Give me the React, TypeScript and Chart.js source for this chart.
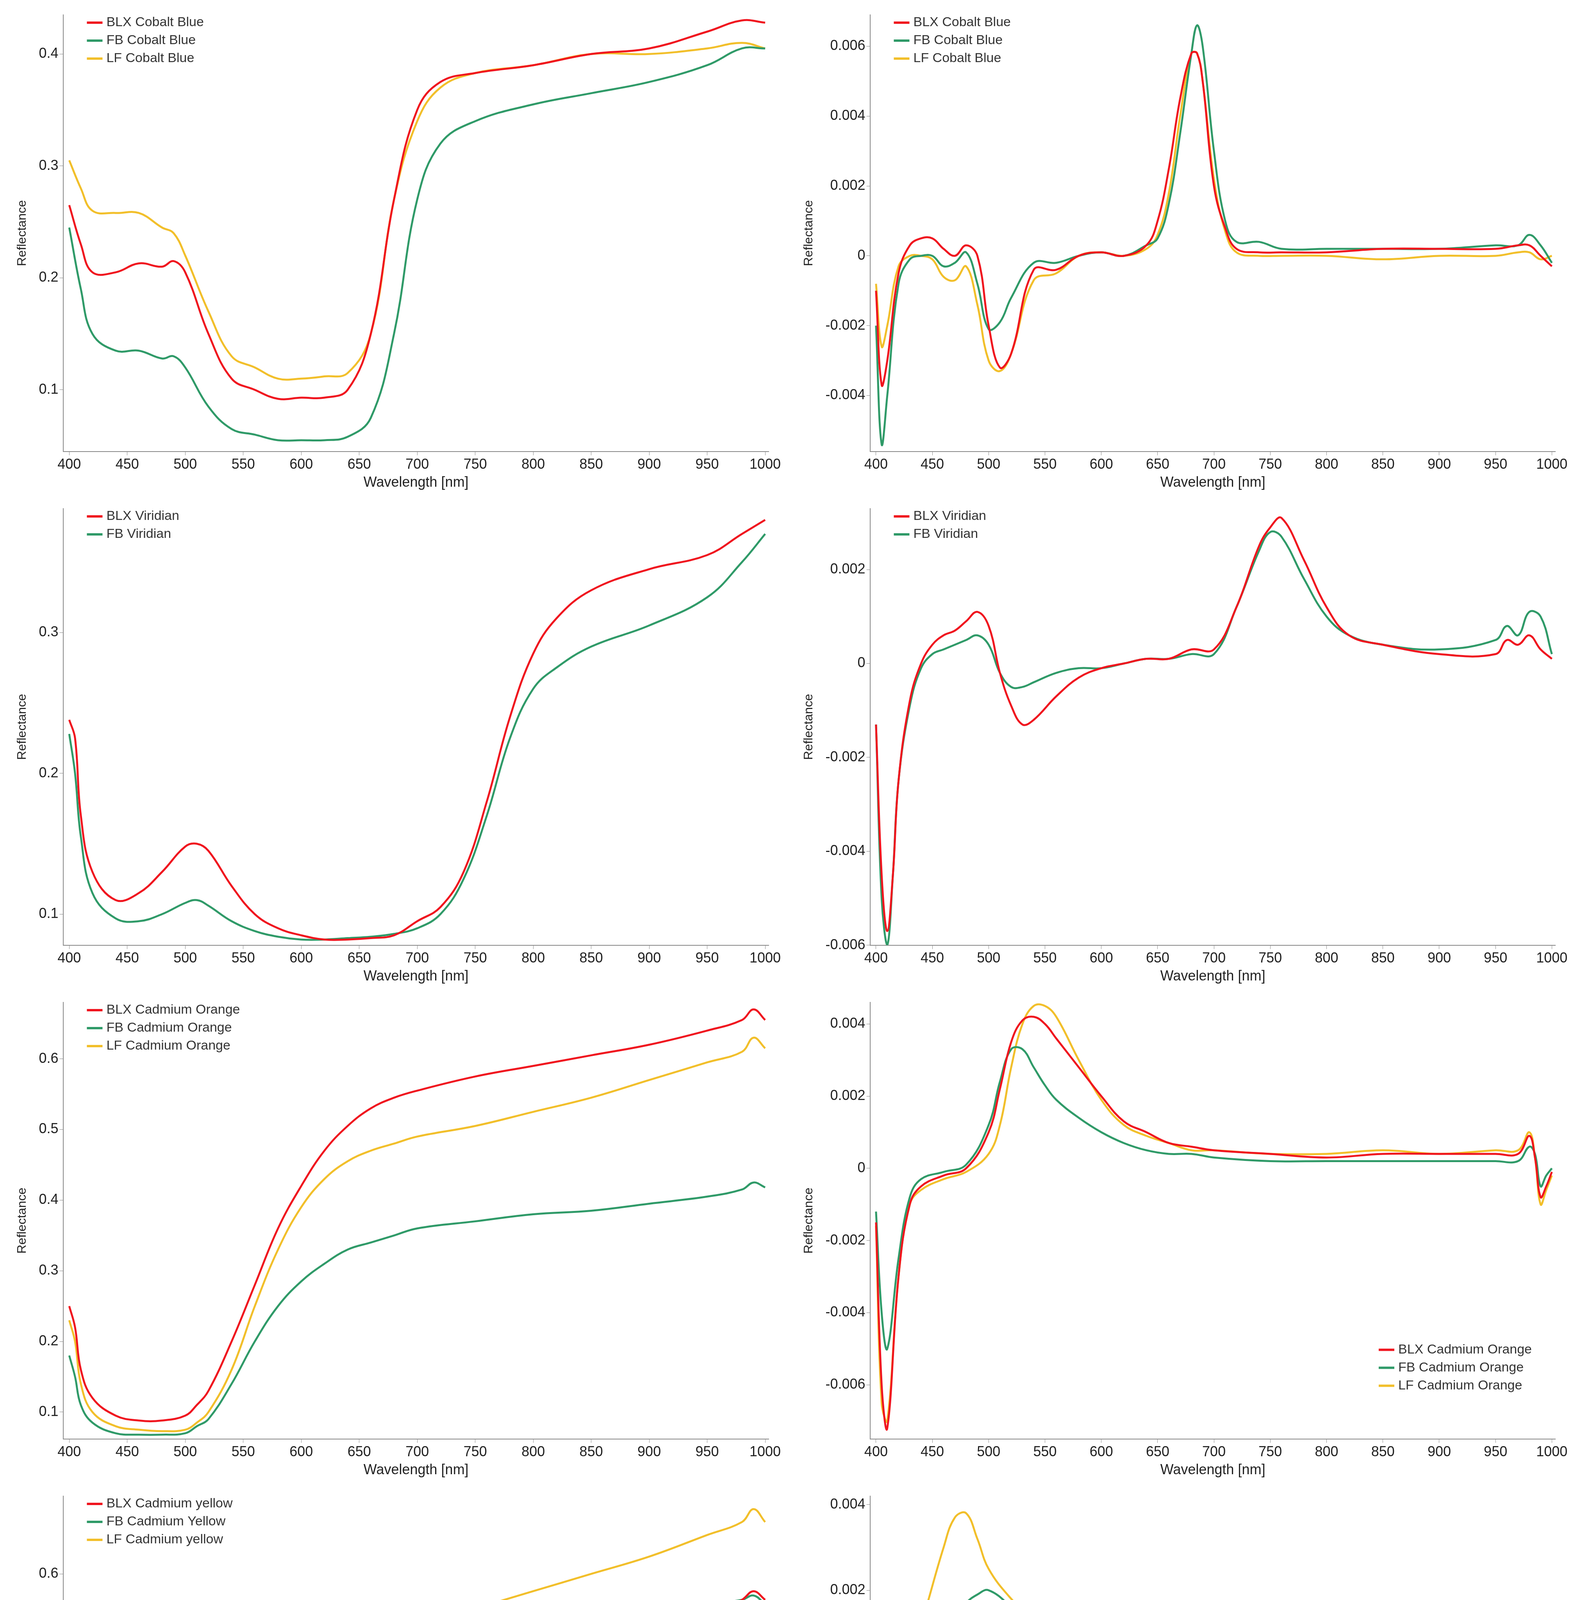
import React, { useEffect, useRef } from "react";
import { Chart, registerables } from "chart.js";
Chart.register(...registerables);

const RED = "#f0141e", GREEN = "#2f9a68", YELLOW = "#f2bf2a";

// Panel 1: Cobalt Blue reflectance
const wl1 = [400,410,420,440,460,480,490,500,520,540,560,580,600,620,640,660,680,700,720,750,800,850,900,950,980,1000];
const blxCobalt = [.265,.23,.205,.205,.213,.21,.215,.205,.15,.11,.1,.092,.093,.093,.1,.15,.27,.35,.375,.383,.39,.4,.405,.42,.43,.428];
const fbCobalt = [.245,.19,.15,.135,.135,.128,.13,.12,.085,.065,.06,.055,.055,.055,.058,.075,.15,.27,.32,.34,.355,.365,.375,.39,.405,.405];
const lfCobalt = [.305,.28,.26,.258,.258,.245,.24,.22,.17,.13,.12,.11,.11,.112,.115,.15,.27,.34,.37,.383,.39,.4,.4,.405,.41,.405];
// Panel 2: Cobalt Blue derivative
const wl2 = [400,405,410,420,430,440,450,460,470,480,490,500,510,520,540,560,580,600,620,640,650,660,670,680,685,690,700,710,720,740,760,800,850,900,950,970,980,990,1000];
const blxCobaltD = [-0.001,-0.0037,-0.003,-0.0005,0.0003,0.0005,0.0005,0.0002,0,0.0003,0,-0.002,-0.0032,-0.0028,-0.0004,-0.0004,0,0.0001,0,0.0003,0.001,0.0025,0.0045,0.0058,0.0058,0.005,0.002,0.0008,0.0002,0.0001,0.0001,0.0001,0.0002,0.0002,0.0002,0.0003,0.0003,0,-0.0003];
const fbCobaltD = [-0.002,-0.0054,-0.004,-0.0008,-0.0001,0,0,-0.0003,-0.0002,0.0001,-0.0008,-0.0021,-0.0019,-0.0012,-0.0002,-0.0002,0,0.0001,0,0.0003,0.0005,0.0015,0.0035,0.0058,0.0066,0.006,0.003,0.001,0.0004,0.0004,0.0002,0.0002,0.0002,0.0002,0.0003,0.0003,0.0006,0.0003,-0.0002];
const lfCobaltD = [-0.0008,-0.0026,-0.002,-0.0003,0,0,-0.0001,-0.0006,-0.0007,-0.0003,-0.0014,-0.003,-0.0033,-0.0028,-0.0007,-0.0005,0,0.0001,0,0.0002,0.0006,0.0018,0.004,0.0058,0.0058,0.005,0.0022,0.0007,0.0001,0,0,0,-0.0001,0,0,0.0001,0.0001,-0.0001,0];
// Panel 3: Viridian reflectance
const wl3 = [400,405,410,420,440,460,480,500,510,520,540,560,580,600,620,640,660,680,700,720,740,760,780,800,820,850,900,950,980,1000];
const blxViridian = [.238,.225,.17,.13,.11,.115,.13,.148,.15,.145,.12,.1,.09,.085,.082,.082,.083,.085,.095,.105,.13,.18,.24,.285,.31,.33,.345,.355,.37,.38];
const fbViridian = [.228,.2,.155,.115,.097,.095,.1,.108,.11,.106,.095,.088,.084,.082,.082,.083,.084,.086,.09,.1,.125,.17,.225,.26,.275,.29,.305,.325,.35,.37];
// Panel 4: Viridian derivative
const wl4 = [400,405,410,415,420,430,440,450,460,470,480,490,500,510,520,530,540,560,580,600,620,640,660,680,700,720,740,750,760,780,800,820,850,900,950,960,970,980,990,1000];
const blxViridianD = [-0.0013,-0.0045,-0.0057,-0.0045,-0.0025,-0.0008,0,0.0004,0.0006,0.0007,0.0009,0.0011,0.0008,-0.0002,-0.0009,-0.0013,-0.0012,-0.0007,-0.0003,-0.0001,0,0.0001,0.0001,0.0003,0.0003,0.0012,0.0025,0.0029,0.0031,0.0022,0.0012,0.0006,0.0004,0.0002,0.0002,0.0005,0.0004,0.0006,0.0003,0.0001];
const fbViridianD = [-0.0013,-0.005,-0.006,-0.0045,-0.0025,-0.0009,-0.0001,0.0002,0.0003,0.0004,0.0005,0.0006,0.0004,-0.0002,-0.0005,-0.0005,-0.0004,-0.0002,-0.0001,-0.0001,0,0.0001,0.0001,0.0002,0.0002,0.0012,0.0024,0.0028,0.0027,0.0018,0.001,0.0006,0.0004,0.0003,0.0005,0.0008,0.0006,0.0011,0.001,0.0002];
// Panel 5: Cadmium Orange reflectance
const wl5 = [400,405,410,420,440,460,480,500,510,520,540,560,580,600,620,640,660,680,700,750,800,850,900,950,980,990,1000];
const blxOrange = [.25,.22,.16,.12,.095,.088,.088,.095,.11,.13,.2,.28,.36,.42,.47,.505,.53,.545,.555,.575,.59,.605,.62,.64,.655,.67,.655];
const fbOrange = [.18,.15,.11,.085,.07,.068,.068,.07,.08,.09,.14,.2,.25,.285,.31,.33,.34,.35,.36,.37,.38,.385,.395,.405,.415,.425,.418];
const lfOrange = [.23,.2,.14,.1,.08,.075,.073,.075,.085,.1,.16,.25,.33,.39,.43,.455,.47,.48,.49,.505,.525,.545,.57,.595,.61,.63,.615];
// Panel 6: Cadmium Orange derivative
const wl6 = [400,405,410,420,430,440,460,480,500,510,520,530,540,550,560,580,600,620,640,660,680,700,750,800,850,900,950,970,980,985,990,995,1000];
const blxOrangeD = [-0.0015,-0.006,-0.0072,-0.003,-0.001,-0.0005,-0.0002,0,0.001,0.0022,0.0035,0.0041,0.0042,0.004,0.0036,0.0028,0.002,0.0013,0.001,0.0007,0.0006,0.0005,0.0004,0.0003,0.0004,0.0004,0.0004,0.0004,0.0009,0.0003,-0.0008,-0.0005,-0.0001];
const fbOrangeD = [-0.0012,-0.004,-0.005,-0.0025,-0.0008,-0.0003,-0.0001,0.0001,0.0012,0.0024,0.0033,0.0033,0.0028,0.0023,0.0019,0.0014,0.001,0.0007,0.0005,0.0004,0.0004,0.0003,0.0002,0.0002,0.0002,0.0002,0.0002,0.0002,0.0006,0.0004,-0.0005,-0.0002,0];
const lfOrangeD = [-0.0016,-0.0065,-0.007,-0.003,-0.001,-0.0006,-0.0003,-0.0001,0.0004,0.0012,0.0028,0.004,0.0045,0.0045,0.0042,0.003,0.0019,0.0012,0.0009,0.0007,0.0005,0.0005,0.0004,0.0004,0.0005,0.0004,0.0005,0.0005,0.001,0.0003,-0.001,-0.0006,-0.0002];
// Panel 7: Cadmium Yellow reflectance
const wl7 = [400,405,410,420,430,440,460,480,500,520,540,560,580,600,650,700,750,800,850,900,950,980,990,1000];
const blxYellow = [.29,.28,.26,.23,.225,.23,.245,.265,.3,.33,.345,.36,.375,.385,.415,.44,.46,.48,.5,.52,.55,.57,.58,.57];
const fbYellow = [.32,.315,.3,.29,.29,.295,.31,.33,.36,.395,.42,.44,.455,.47,.5,.52,.54,.55,.555,.56,.565,.57,.575,.565];
const lfYellow = [.3,.28,.24,.2,.19,.195,.225,.27,.33,.38,.42,.445,.47,.49,.52,.54,.56,.58,.6,.62,.645,.66,.675,.66];
// Panel 8: Cadmium Yellow derivative
const wl8 = [400,405,410,415,420,430,440,460,470,480,490,500,520,540,560,580,600,620,640,660,680,700,750,800,850,900,950,970,980,985,990,1000];
const blxYellowD = [-0.0006,-0.003,-0.0036,-0.0025,-0.0012,0,0.0007,0.0012,0.0014,0.0015,0.0014,0.0013,0.001,0.0008,0.0008,0.0006,0.0005,0.0005,0.0004,0.0004,0.0004,0.0004,0.0004,0.0004,0.0004,0.0004,0.0005,0.0004,0.0008,0.0002,-0.0008,-0.0001];
const fbYellowD = [-0.0006,-0.0022,-0.002,-0.001,0,0.0006,0.0007,0.001,0.0013,0.0017,0.0019,0.002,0.0016,0.001,0.0009,0.0008,0.0006,0.0006,0.0005,0.0004,0.0003,0.0003,0.0002,0.0002,0.0001,0.0001,0.0001,0.0002,0.0005,0.0002,-0.0009,-0.0004];
const lfYellowD = [-0.0015,-0.0055,-0.0052,-0.003,-0.001,0.0005,0.0012,0.003,0.0037,0.0038,0.0032,0.0025,0.0018,0.0013,0.001,0.0007,0.0006,0.0005,0.0003,0.0003,0.0005,0.0005,0.0004,0.0004,0.0005,0.0005,0.0006,0.0005,0.0009,0.0003,-0.0007,-0.0002];

const xTicks = [400,450,500,550,600,650,700,750,800,850,900,950,1000];

type S = { label: string; color: string; data: number[] };
type P = { wl: number[]; series: S[]; ymin: number; ymax: number; step: number; legend: "tl" | "br" };

const panels: P[] = [
  { wl: wl1, ymin: 0.045, ymax: 0.435, step: 0.1, legend: "tl", series: [
    { label: "BLX Cobalt Blue", color: RED, data: blxCobalt },
    { label: "FB Cobalt Blue", color: GREEN, data: fbCobalt },
    { label: "LF Cobalt Blue", color: YELLOW, data: lfCobalt }] },
  { wl: wl2, ymin: -0.0056, ymax: 0.0069, step: 0.002, legend: "tl", series: [
    { label: "BLX Cobalt Blue", color: RED, data: blxCobaltD },
    { label: "FB Cobalt Blue", color: GREEN, data: fbCobaltD },
    { label: "LF Cobalt Blue", color: YELLOW, data: lfCobaltD }] },
  { wl: wl3, ymin: 0.078, ymax: 0.388, step: 0.1, legend: "tl", series: [
    { label: "BLX Viridian", color: RED, data: blxViridian },
    { label: "FB Viridian", color: GREEN, data: fbViridian }] },
  { wl: wl4, ymin: -0.006, ymax: 0.0033, step: 0.002, legend: "tl", series: [
    { label: "BLX Viridian", color: RED, data: blxViridianD },
    { label: "FB Viridian", color: GREEN, data: fbViridianD }] },
  { wl: wl5, ymin: 0.062, ymax: 0.68, step: 0.1, legend: "tl", series: [
    { label: "BLX Cadmium Orange", color: RED, data: blxOrange },
    { label: "FB Cadmium Orange", color: GREEN, data: fbOrange },
    { label: "LF Cadmium Orange", color: YELLOW, data: lfOrange }] },
  { wl: wl6, ymin: -0.0075, ymax: 0.0046, step: 0.002, legend: "br", series: [
    { label: "BLX Cadmium Orange", color: RED, data: blxOrangeD },
    { label: "FB Cadmium Orange", color: GREEN, data: fbOrangeD },
    { label: "LF Cadmium Orange", color: YELLOW, data: lfOrangeD }] },
  { wl: wl7, ymin: 0.185, ymax: 0.69, step: 0.1, legend: "tl", series: [
    { label: "BLX Cadmium yellow", color: RED, data: blxYellow },
    { label: "FB Cadmium Yellow", color: GREEN, data: fbYellow },
    { label: "LF Cadmium yellow", color: YELLOW, data: lfYellow }] },
  { wl: wl8, ymin: -0.006, ymax: 0.0042, step: 0.002, legend: "br", series: [
    { label: "BLX Cadmium yellow", color: RED, data: blxYellowD },
    { label: "FB Cadmium Yellow", color: GREEN, data: fbYellowD },
    { label: "LF Cadmium yellow", color: YELLOW, data: lfYellowD }] },
];

const FONT = "'Liberation Sans', Arial, sans-serif";

const legendPlugin = (p: P) => ({
  id: "vlegend",
  afterDraw(chart: any) {
    const ctx = chart.ctx, a = chart.chartArea;
    const lh = 46, fs = 34;
    ctx.save();
    ctx.font = `${fs}px ${FONT}`;
    ctx.textBaseline = "middle";
    let x0: number, y0: number;
    if (p.legend === "tl") { x0 = a.left + 60; y0 = a.top + 20; }
    else {
      const w = Math.max(...p.series.map(s => ctx.measureText(s.label).width)) + 70;
      x0 = a.right - w - 40; y0 = a.bottom - 90 - lh * p.series.length;
    }
    p.series.forEach((s, i) => {
      const y = y0 + i * lh;
      ctx.strokeStyle = s.color; ctx.lineWidth = 6;
      ctx.beginPath(); ctx.moveTo(x0, y); ctx.lineTo(x0 + 40, y); ctx.stroke();
      ctx.fillStyle = "#333"; ctx.fillText(s.label, x0 + 50, y);
    });
    ctx.restore();
  },
});

function yTickValues(p: P) {
  const out: { value: number }[] = [];
  const start = Math.ceil(p.ymin / p.step - 1e-9);
  for (let k = start; k * p.step <= p.ymax + 1e-12; k++) out.push({ value: Number((k * p.step).toFixed(6)) });
  return out;
}

function Panel({ p }: { p: P }) {
  const ref = useRef<HTMLCanvasElement>(null);
  useEffect(() => {
    const chart = new Chart(ref.current!, {
      type: "line",
      data: {
        datasets: p.series.map(s => ({
          label: s.label,
          data: p.wl.map((x, i) => ({ x, y: s.data[i] })),
          borderColor: s.color, borderWidth: 5, pointRadius: 0, tension: 0.4, fill: false,
        })),
      },
      options: {
        animation: false, responsive: true, maintainAspectRatio: false,
        layout: { padding: { top: 30, right: 40, left: 10, bottom: 10 } },
        plugins: { legend: { display: false }, tooltip: { enabled: false } },
        scales: {
          x: {
            type: "linear", min: 395, max: 1003,
            afterBuildTicks: (ax: any) => { ax.ticks = xTicks.map(v => ({ value: v })); },
            ticks: { color: "#222", font: { size: 36, family: FONT }, maxRotation: 0, callback: (v: any) => String(v) },
            grid: { drawOnChartArea: false, color: "#888", tickLength: 10 },
            border: { color: "#888", width: 2 },
            title: { display: true, text: "Wavelength [nm]", color: "#222", font: { size: 36, family: FONT }, padding: 0 },
          },
          y: {
            min: p.ymin, max: p.ymax,
            afterBuildTicks: (ax: any) => { ax.ticks = yTickValues(p); },
            ticks: {
              color: "#222", font: { size: 36, family: FONT },
              callback: (v: any) => { const n = Number(Number(v).toFixed(4)); return n === 0 ? "0" : String(n); },
            },
            grid: { drawOnChartArea: false, color: "#888", tickLength: 10 },
            border: { color: "#888", width: 2 },
            title: { display: true, text: "Reflectance", color: "#222", font: { size: 32, family: FONT }, padding: 20 },
          },
        },
      } as any,
      plugins: [legendPlugin(p)],
    });
    return () => chart.destroy();
  }, []);
  return (
    <div style={{ position: "relative", width: 2000, height: 1260 }}>
      <canvas ref={ref} />
    </div>
  );
}

export default function App() {
  return (
    <div style={{ width: 4014, display: "grid", gridTemplateColumns: "2000px 2000px", columnGap: 14, rowGap: 4, background: "#fff" }}>
      {panels.map((p, i) => <Panel key={i} p={p} />)}
    </div>
  );
}
